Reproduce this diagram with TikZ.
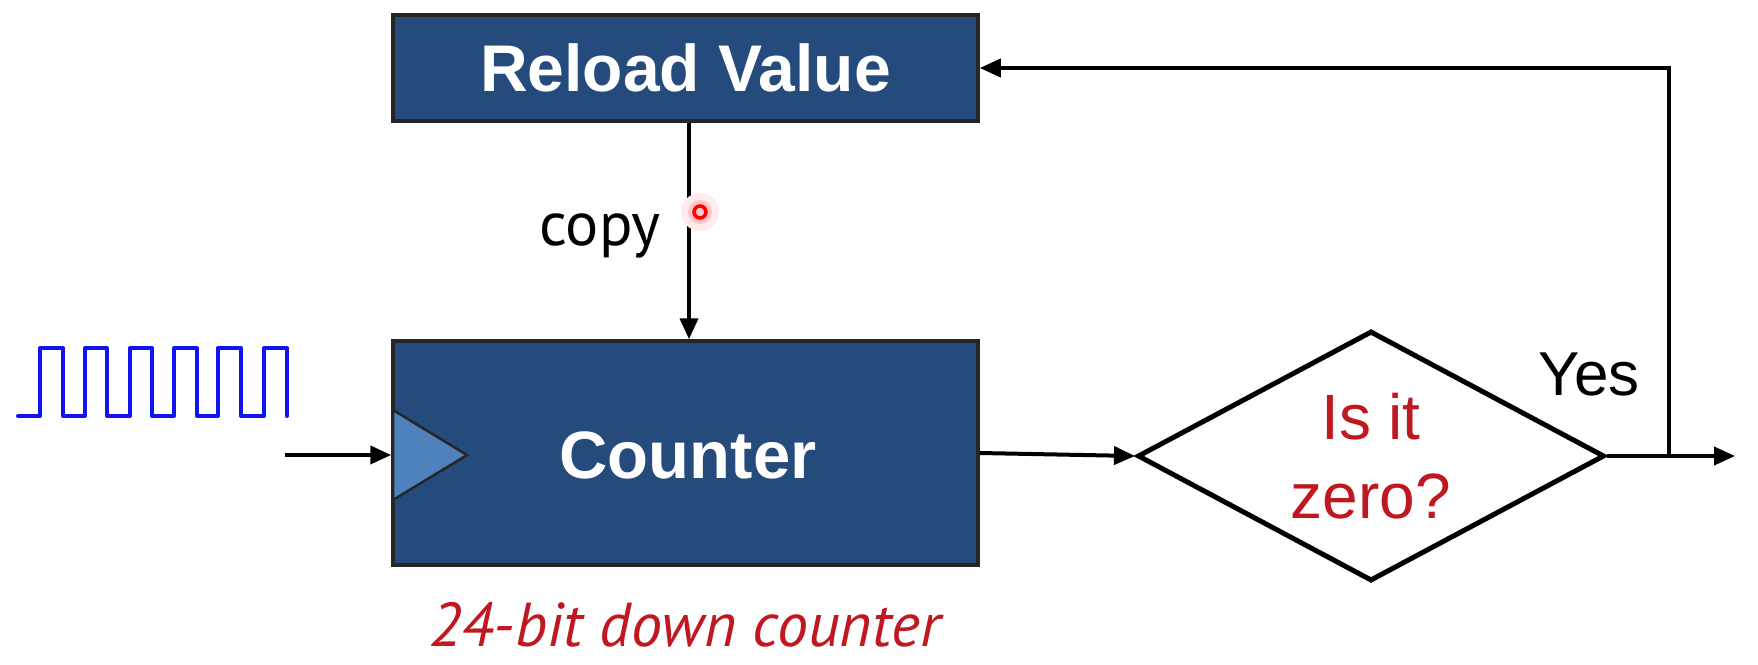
\documentclass[tikz,border=0pt]{standalone}
\usepackage{fontspec}
\setmainfont{Liberation Sans}
\newfontfamily\ptsans{PT Sans}
\usetikzlibrary{shapes.geometric,arrows.meta,calc}
\definecolor{boxblue}{HTML}{254A7C}
\definecolor{clkblue}{HTML}{4F81BD}
\definecolor{txtred}{HTML}{C01820}
\definecolor{wavecol}{HTML}{0F14F0}
\begin{document}
\begin{tikzpicture}[x=1pt,y=-1pt,
  blk/.style={draw=black!85, line width=3.5pt, fill=boxblue, text=white,
    font=\fontsize{66}{70}\selectfont\bfseries, inner sep=0pt,
    minimum width=585pt},
  conn/.style={line width=4pt, -{Triangle[length=21pt,width=18pt]}},
  lbl/.style={inner sep=0pt, anchor=base}]
\useasboundingbox (0,0) rectangle (1758,664);

% blocks
\node[blk, minimum height=106pt] (reload) at (685.5,68) {Reload Value};
\node[blk, minimum height=224pt] (counter) at (685.5,453) {};
\draw[fill=clkblue, line width=2.5pt, draw=black!85] (393,410) -- (467,455) -- (393,500) -- cycle;
\node[font=\fontsize{67}{70}\selectfont\bfseries, text=white, inner sep=0pt] (countertxt) at (688,455) {Counter};

% decision
\node[diamond, draw=black, line width=5pt, fill=white, minimum width=467pt,
  minimum height=250pt, inner sep=0pt] (zero) at (1371,456) {};
\node[inner sep=0pt, align=center, text=txtred,
  font=\fontsize{64}{79}\selectfont] (zerotxt) at (zero.center) {Is it\\zero?};

% clock wave
\draw[wavecol, line width=4pt, line join=round, line cap=round]
  (18,416) -- (40,416) -- (40,348) -- (63,348) -- (63,416) -- (85,416) -- (85,348)
  -- (107,348) -- (107,416) -- (130,416) -- (130,348) -- (152,348) -- (152,416)
  -- (174,416) -- (174,348) -- (197,348) -- (197,416) -- (218,416) -- (218,348)
  -- (241,348) -- (241,416) -- (264,416) -- (264,348) -- (287,348) -- (287,416);

% connectors
\coordinate (clkin) at (285,455);
\coordinate (copyx) at (689,0);
\coordinate (junc) at (1669,456);
\coordinate (outend) at (1735,456);
\draw[conn] (clkin) -- (counter.west |- clkin);
\draw[conn] (reload.south -| copyx) -- (counter.north -| copyx);
\draw[conn] (counter.east) -- (zero.west);
\draw[conn] (zero.east) -- (outend);
\draw[conn] (junc) |- (reload.east);

% labels
\node[lbl, font=\ptsans\fontsize{62}{70}\selectfont] (copy) at (600,245) {copy};
\node[lbl, font=\fontsize{62}{70}\selectfont] (yes) at (1589,395) {Yes};
\node[lbl, font=\ptsans\itshape\fontsize{62}{70}\selectfont, text=txtred] (caption) at (685,646) {24-bit down counter};

% pointer dot
\fill[red!8] (700,212) circle (19);
\fill[red!22] (700,212) circle (12);
\draw[red, line width=3.5pt] (700,212) circle (6);
\end{tikzpicture}
\end{document}
